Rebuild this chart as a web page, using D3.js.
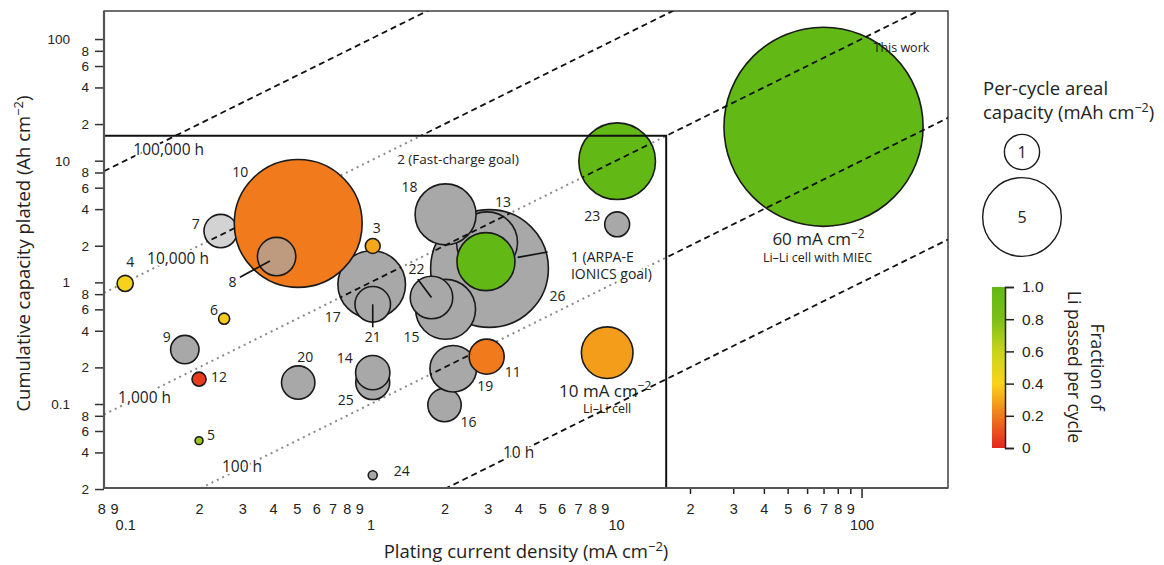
<!DOCTYPE html>
<html>
<head>
<meta charset="utf-8">
<script src="https://cdn.jsdelivr.net/npm/d3@7"></script>
<style>
body { margin: 0; background: #fff; }
text { font-family: "Open Sans", "Liberation Sans", sans-serif; fill: #222; }
.tick text { font-family: "Liberation Sans", Arial, sans-serif; }
</style>
</head>
<body>
<div id="chart"></div>
<script>
// bubbles, in drawing order
var ids =        ["26", "13", "18", "15", "22", "1", "17", "21", "25", "14", "20", "7", "10", "8", "3", "4", "6", "9", "12", "5", "16", "19", "11", "24", "23", "2", "Li-Li", "This work"];
var current =    [3.05, 2.98, 2.02, 2.02, 1.77, 2.95, 1.01, 1.02, 1.02, 1.02, 0.507, 0.245, 0.507, 0.414, 1.02, 0.1, 0.253, 0.175, 0.2, 0.2, 2.0, 2.17, 2.97, 1.02, 10.1, 10.1, 9.2, 70];
var cumulative = [1.30, 2.13, 3.62, 0.60, 0.75, 1.48, 0.96, 0.66, 0.15, 0.181, 0.15, 2.64, 3.05, 1.63, 1.99, 0.98, 0.503, 0.28, 0.16, 0.05, 0.098, 0.195, 0.245, 0.026, 3.0, 9.9, 0.264, 19];
var areal =      [11.2, 3.0, 3.0, 2.9, 1.46, 2.71, 3.69, 1.02, 0.93, 0.95, 0.9, 0.9, 13.2, 1.19, 0.18, 0.21, 0.1, 0.65, 0.16, 0.05, 0.9, 1.75, 0.99, 0.065, 0.5, 4.74, 2.15, 32];
var fraction =   [null, null, null, null, null, 1.0, null, null, null, null, null, null, 0.2, null, 0.3, 0.42, 0.38, null, 0.05, 0.72, null, null, 0.2, null, null, 1.0, 0.28, 1.0];

// constant-time lines
var hours = [10, 100, 1000, 10000, 100000];
var hourLabels = ["10 h", "100 h", "1,000 h", "10,000 h", "100,000 h"];
var hourLabelAt = [[3.46, 0.036], [0.248, 0.0276], [0.0936, 0.1019], [0.1228, 1.406], [0.108, 11.2]];
var dashedInBox = [10, 100000];

// the target box (mA cm-2, Ah cm-2)
var boxJ = 16, boxC = 16;

// ticks
var xTickValues = [0.08, 0.09, 0.1, 0.2, 0.3, 0.4, 0.5, 0.6, 0.7, 0.8, 0.9, 1, 2, 3, 4, 5, 6, 7, 8, 9, 10, 20, 30, 40, 50, 60, 70, 80, 90, 100];
var xTickLabels = ["8", "9", "0.1", "2", "3", "4", "5", "6", "7", "8", "9", "1", "2", "3", "4", "5", "6", "7", "8", "9", "10", "2", "3", "4", "5", "6", "7", "8", "9", "100"];
var yTickValues = [0.02, 0.04, 0.06, 0.08, 0.1, 0.2, 0.4, 0.6, 0.8, 1, 2, 4, 6, 8, 10, 20, 40, 60, 80, 100];
var yTickLabels = ["2", "4", "6", "8", "0.1", "2", "4", "6", "8", "1", "2", "4", "6", "8", "10", "2", "4", "6", "8", "100"];
var legendSizes = [1, 5];
var colorTicks = [0, 0.2, 0.4, 0.6, 0.8, 1.0];
var colorTickLabels = ["0", "0.2", "0.4", "0.6", "0.8", "1.0"];

var svgWidth = 1164;
var svgHeight = 565;
var margin = { top: 11, right: 216, bottom: 77, left: 104 };
var width = svgWidth - margin.left - margin.right;
var height = svgHeight - margin.top - margin.bottom;

var svg = d3.select("#chart").append("svg")
    .attr("width", svgWidth)
    .attr("height", svgHeight);

var chartGroup = svg.append("g")
    .attr("transform", `translate(${margin.left}, ${margin.top})`);

var x = d3.scaleLog().domain([0.082, 225]).range([0, width]);
var y = d3.scaleLog().domain([0.0204, 170]).range([height, 0]);
var r = d3.scaleSqrt().domain([0, 1]).range([0, 17.6]);
var color = d3.scaleLinear()
    .domain([0, 0.2, 0.4, 0.6, 0.8, 1.0])
    .range(["#e3261e", "#f07a1c", "#fbd21a", "#c8d41c", "#7cbf18", "#62b814"]);

var bubbles = ids.map(function (id, i) {
    return { id: id, j: current[i], c: cumulative[i], a: areal[i], f: fraction[i] };
});

var isMajor = d => Math.abs(Math.log10(d) - Math.round(Math.log10(d))) < 1e-9;

// clip paths
var defs = svg.append("defs");
defs.append("clipPath").attr("id", "plotClip")
    .append("rect").attr("width", width).attr("height", height);
defs.append("clipPath").attr("id", "boxClip")
    .append("rect").attr("x", 0).attr("y", y(boxC)).attr("width", x(boxJ)).attr("height", height - y(boxC));

var dashClip = defs.append("clipPath").attr("id", "dashClip");
dashClip.append("rect").attr("x", 0).attr("y", 0).attr("width", width).attr("height", y(boxC));
dashClip.append("rect").attr("x", x(boxJ)).attr("y", 0).attr("width", width - x(boxJ)).attr("height", height);
dashClip.selectAll("circle")
    .data(bubbles.filter(d => d.f === null || d.id === "2"))
    .enter().append("circle")
    .attr("cx", d => x(d.j))
    .attr("cy", d => y(d.c))
    .attr("r", d => r(d.a));

var hourLine = function (h) {
    return d3.line()
        .x(d => x(d))
        .y(d => y(d * h / 1000))(x.domain());
};

// grey dotted lines inside the box
chartGroup.append("g")
    .attr("clip-path", "url(#boxClip)")
    .selectAll("path")
    .data(hours.filter(h => dashedInBox.indexOf(h) < 0))
    .enter().append("path")
    .attr("d", hourLine)
    .attr("fill", "none")
    .attr("stroke", "#8a8a8a")
    .attr("stroke-width", 2)
    .attr("stroke-dasharray", "2,4");

// bubbles
chartGroup.append("g")
    .attr("clip-path", "url(#plotClip)")
    .selectAll("circle")
    .data(bubbles)
    .enter().append("circle")
    .attr("cx", d => x(d.j))
    .attr("cy", d => y(d.c))
    .attr("r", d => r(d.a))
    .attr("fill", d => d.f === null ? (d.id === "7" ? "#d3d3d3" : "#a8a8a8") : color(d.f))
    .attr("fill-opacity", d => d.id === "8" ? 0.7 : 1)
    .attr("stroke", "#1a1a1a")
    .attr("stroke-width", 1.6);

// black dashed lines: outside the box and across the grey bubbles
var dashGroup = chartGroup.append("g").attr("clip-path", "url(#plotClip)");
dashGroup.append("g")
    .attr("clip-path", "url(#dashClip)")
    .selectAll("path")
    .data(hours.filter(h => dashedInBox.indexOf(h) < 0))
    .enter().append("path")
    .attr("d", hourLine)
    .attr("fill", "none")
    .attr("stroke", "#111")
    .attr("stroke-width", 1.8)
    .attr("stroke-dasharray", "6,4");
dashGroup.selectAll(".full")
    .data(dashedInBox)
    .enter().append("path")
    .attr("class", "full")
    .attr("d", hourLine)
    .attr("fill", "none")
    .attr("stroke", "#111")
    .attr("stroke-width", 1.8)
    .attr("stroke-dasharray", "6,4");

// box outline
chartGroup.append("path")
    .attr("d", `M0,${y(boxC)}H${x(boxJ)}V${height}`)
    .attr("fill", "none")
    .attr("stroke", "#111")
    .attr("stroke-width", 2);

// hour labels
chartGroup.selectAll(".hlabel")
    .data(hourLabels)
    .enter().append("text")
    .attr("class", "hlabel")
    .attr("x", (d, i) => x(hourLabelAt[i][0]))
    .attr("y", (d, i) => y(hourLabelAt[i][1]))
    .style("font-size", "15.5px")
    .style("stroke", "#fff")
    .style("stroke-width", 4)
    .style("paint-order", "stroke")
    .text(d => d);

// bubble number labels (offsets in px from the bubble centre)
var labelOffsets = {
    "3": [4, -18], "4": [5, -21], "5": [12, -6], "6": [-10, -9], "7": [-25, -7], "8": [-44, 26],
    "9": [-18, -13], "10": [-58, -51], "11": [26, 15], "12": [20, -2], "13": [16, -40], "14": [-28, -15],
    "15": [-34, 28], "16": [24, 17], "17": [-39, 33], "18": [-36, -27], "19": [32, 17], "20": [7, -25],
    "21": [0, 33], "22": [-15, -28], "23": [-25, -8], "24": [29, -4], "25": [-27, 18], "26": [68, 28]
};
var leaders = {
    "8": [[-36.7, 20.7], [-6.7, 4.4]],
    "21": [[0, 0], [0, 23]],
    "22": [[-13.7, -18.3], [0, 0]],
    "1": [[31.7, -4.3], [61.7, -9.6]]
};
var byId = {};
bubbles.forEach(d => byId[d.id] = d);

Object.keys(leaders).forEach(function (id) {
    var b = byId[id], L = leaders[id];
    chartGroup.append("line")
        .attr("x1", x(b.j) + L[0][0]).attr("y1", y(b.c) + L[0][1])
        .attr("x2", x(b.j) + L[1][0]).attr("y2", y(b.c) + L[1][1])
        .attr("stroke", "#111")
        .attr("stroke-width", 1.6);
});

chartGroup.selectAll(".num")
    .data(Object.keys(labelOffsets))
    .enter().append("text")
    .attr("class", "num")
    .attr("x", d => x(byId[d].j) + labelOffsets[d][0])
    .attr("y", d => y(byId[d].c) + labelOffsets[d][1])
    .attr("dy", "0.35em")
    .style("text-anchor", "middle")
    .style("font-size", "14px")
    .text(d => d);

// multi-line annotations
function note(id, dx, dy, lines, anchor) {
    var b = byId[id];
    var t = chartGroup.append("text")
        .attr("x", x(b.j) + dx)
        .attr("y", y(b.c) + dy)
        .style("text-anchor", anchor);
    lines.forEach(function (ln, k) {
        var sp = t.append("tspan")
            .attr("x", x(b.j) + dx)
            .attr("dy", k === 0 ? 0 : ln.gap)
            .style("font-size", ln.size + "px");
        sp.text(ln.text);
        if (ln.sup) {
            sp.append("tspan").attr("dy", -7).style("font-size", (ln.size * 0.7) + "px").text(ln.sup);
        }
    });
    return t;
}
note("2", -220, 3, [{ text: "2 (Fast-charge goal)", size: 13.5 }], "start");
note("1", 85, 0, [{ text: "1 (ARPA-E", size: 14 }, { text: "IONICS goal)", size: 14, gap: 17 }], "start")
    .style("stroke", "#fff").style("stroke-width", 4).style("paint-order", "stroke");
note("Li-Li", -2, 44, [{ text: "10 mA cm", sup: "\u22122", size: 17 }], "middle");
note("Li-Li", 0, 60, [{ text: "Li\u2013Li cell", size: 12.5 }], "middle");
note("This work", -5, 118, [{ text: "60 mA cm", sup: "\u22122", size: 17 }], "middle");
note("This work", -6, 135, [{ text: "Li\u2013Li cell with MIEC", size: 12.5 }], "middle");
note("This work", 50, -75, [{ text: "This work", size: 12.5 }], "start");

// axes
var bottomAxis = d3.axisBottom(x)
    .tickValues(xTickValues)
    .tickFormat(d => xTickLabels[xTickValues.indexOf(d)])
    .tickSize(6);
var xAxis = chartGroup.append("g")
    .attr("transform", `translate(0, ${height})`)
    .call(bottomAxis);
xAxis.select(".domain").remove();
xAxis.selectAll(".tick line")
    .attr("y2", d => d < boxJ ? 0 : (d === 100 ? 10 : 6))
    .attr("stroke", "#222")
    .attr("stroke-width", 1.5);
xAxis.selectAll(".tick text")
    .attr("y", d => isMajor(d) ? 32 : 16)
    .style("font-size", "14.5px")
    .style("fill", "#222");

var leftAxis = d3.axisLeft(y)
    .tickValues(yTickValues)
    .tickFormat(d => yTickLabels[yTickValues.indexOf(d)])
    .tickSize(9)
    .tickPadding(6);
var yAxis = chartGroup.append("g").call(leftAxis);
yAxis.select(".domain").remove();
yAxis.selectAll(".tick line").attr("stroke", "#333").attr("stroke-width", 1.5);
yAxis.selectAll(".tick text")
    .attr("x", d => isMajor(d) ? -34 : -15)
    .style("font-size", "13.5px")
    .style("fill", "#222");

// frame
chartGroup.append("rect")
    .attr("width", width).attr("height", height)
    .attr("fill", "none").attr("stroke", "#222").attr("stroke-width", 1.3);
chartGroup.append("path")
    .attr("d", `M0,0V${height}H${width}`)
    .attr("fill", "none").attr("stroke", "#555").attr("stroke-width", 2.2);

// axis titles
var xTitle = chartGroup.append("text")
    .attr("x", width / 2).attr("y", height + 70)
    .style("text-anchor", "middle").style("font-size", "18.5px");
xTitle.append("tspan").text("Plating current density (mA cm");
xTitle.append("tspan").attr("dy", -7).style("font-size", "13px").text("\u22122");
xTitle.append("tspan").attr("dy", 7).text(")");

var yTitle = chartGroup.append("text")
    .attr("transform", `translate(${-74}, ${height / 2 + 4}) rotate(-90)`)
    .style("text-anchor", "middle").style("font-size", "18.5px");
yTitle.append("tspan").text("Cumulative capacity plated (Ah cm");
yTitle.append("tspan").attr("dy", -7).style("font-size", "13px").text("\u22122");
yTitle.append("tspan").attr("dy", 7).text(")");

// size legend
var sizeLegend = svg.append("g");
var st = sizeLegend.append("text").attr("x", 983).attr("y", 95).style("font-size", "18.5px");
st.append("tspan").attr("x", 983).text("Per-cycle areal");
st.append("tspan").attr("x", 983).attr("dy", 24).text("capacity (mAh cm");
st.append("tspan").attr("dy", -7).style("font-size", "12.5px").text("\u22122");
st.append("tspan").attr("dy", 7).text(")");
var legendY = [152, 217];
sizeLegend.selectAll("circle")
    .data(legendSizes)
    .enter().append("circle")
    .attr("cx", 1022)
    .attr("cy", (d, i) => legendY[i])
    .attr("r", d => r(d))
    .attr("fill", "#fff")
    .attr("stroke", "#1a1a1a")
    .attr("stroke-width", 1.4);
sizeLegend.selectAll(".lt")
    .data(legendSizes)
    .enter().append("text")
    .attr("x", 1022)
    .attr("y", (d, i) => legendY[i])
    .attr("dy", "0.35em")
    .style("text-anchor", "middle")
    .style("font-size", "16px")
    .text(d => d);

// colour bar
var grad = defs.append("linearGradient").attr("id", "fracGrad")
    .attr("x1", 0).attr("y1", 1).attr("x2", 0).attr("y2", 0);
grad.selectAll("stop")
    .data(d3.range(0, 1.0001, 0.05))
    .enter().append("stop")
    .attr("offset", d => d)
    .attr("stop-color", d => color(d));

var cbar = d3.scaleLinear().domain([0, 1]).range([448, 287]);
svg.append("rect")
    .attr("x", 992).attr("y", cbar(1))
    .attr("width", 13).attr("height", cbar(0) - cbar(1))
    .attr("fill", "url(#fracGrad)");
var cAxis = svg.append("g")
    .attr("transform", "translate(1005, 0)")
    .call(d3.axisRight(cbar)
        .tickValues(colorTicks)
        .tickFormat(d => colorTickLabels[colorTicks.indexOf(d)])
        .tickSize(9)
        .tickPadding(8));
cAxis.select(".domain").attr("stroke", "#222").attr("stroke-width", 1.5);
cAxis.selectAll(".tick line").attr("stroke", "#222").attr("stroke-width", 1.5);
cAxis.selectAll(".tick text").style("font-size", "15.5px").style("fill", "#222");

var ct = svg.append("text")
    .attr("transform", "translate(1068, 367) rotate(90)")
    .style("text-anchor", "middle")
    .style("font-size", "17.5px");
ct.append("tspan").attr("x", 0).attr("y", -23).text("Fraction of");
ct.append("tspan").attr("x", 0).attr("y", 0).text("Li passed per cycle");
</script>
</body>
</html>
